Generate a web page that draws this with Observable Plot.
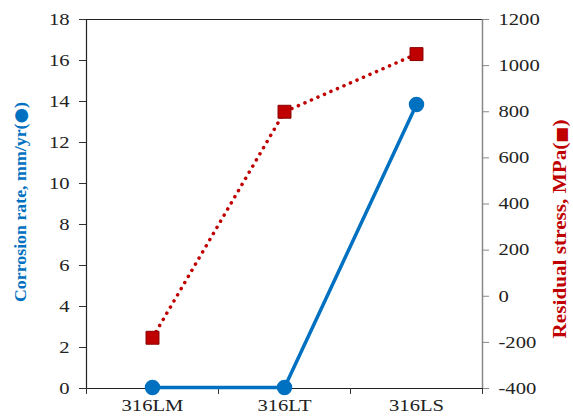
<!DOCTYPE html>
<html>
<head>
<meta charset="utf-8">
<script src="https://cdn.jsdelivr.net/npm/d3@7"></script>
<script src="https://cdn.jsdelivr.net/npm/@observablehq/plot@0.6"></script>
<style>
  html, body { margin: 0; padding: 0; background: #fff; }
  #chart svg { display: block; }
</style>
</head>
<body>
<div id="chart"></div>
<script>
const categories = ["316LM", "316LT", "316LS"];
const corrosionRate = [0.05, 0.05, 13.85];
const residualStress = [-180, 800, 1050];
const leftTicks = [0, 2, 4, 6, 8, 10, 12, 14, 16, 18];
const rightTicks = [-400, -200, 0, 200, 400, 600, 800, 1000, 1200];
const leftTitle = ["Corrosion rate, mm/yr(", "●", ")"];
const rightTitle = ["Residual stress, MPa(", "■", ")"];

const leftMax = 18, rMin = -400, rMax = 1200;
const toLeft = s => (s - rMin) / (rMax - rMin) * leftMax;
const fromLeft = v => String(Math.round(v / leftMax * (rMax - rMin) + rMin));

const corrData = categories.map((c, i) => ({x: i + 0.5, y: corrosionRate[i]}));
const stressData = categories.map((c, i) => ({x: i + 0.5, y: toLeft(residualStress[i])}));

const BLUE = "#0070C0", RED = "#C00000";
const font = "Liberation Serif, Times New Roman, serif";

const chart = Plot.plot({
  width: 573,
  height: 419,
  marginLeft: 86,
  marginRight: 91,
  marginTop: 19,
  marginBottom: 31,
  style: {fontFamily: font, background: "#fff"},
  x: {domain: [0, 3], axis: null},
  y: {domain: [0, leftMax], axis: null},
  marks: [
    Plot.ruleY([leftMax], {stroke: "#222", strokeWidth: 1.2}),
    Plot.ruleY([0], {stroke: "#222", strokeWidth: 1.2}),
    Plot.ruleX([0], {stroke: "#222", strokeWidth: 1.2}),
    Plot.ruleX([3], {stroke: "#888", strokeWidth: 1.5}),
    Plot.axisY({anchor: "left", ticks: leftTicks, tickSize: 7, tickPadding: 10, fontSize: 16.5, stroke: "#333", fill: "#222", label: null, tickFormat: d => String(d)}),
    Plot.axisY({anchor: "right", ticks: rightTicks.map(toLeft), tickSize: 6, tickPadding: 10, fontSize: 16.5, stroke: "#888", fill: "#222", label: null, tickFormat: fromLeft}),
    Plot.axisX({anchor: "bottom", ticks: [0, 1, 2, 3], tickSize: 6, stroke: "#333", tickFormat: () => "", label: null}),
    Plot.axisX({anchor: "bottom", ticks: [0.5, 1.5, 2.5], tickSize: 0, tickPadding: 11, fontSize: 16.5, fill: "#222", label: null, tickFormat: d => categories[Math.round(d - 0.5)]}),
    Plot.lineY(stressData, {x: "x", y: "y", stroke: RED, strokeWidth: 3.5, strokeDasharray: "0.1 7", strokeLinecap: "round"}),
    Plot.dot(stressData, {x: "x", y: "y", symbol: "square", r: 7.3, fill: RED, stroke: "#8a0000", strokeWidth: 1}),
    Plot.lineY(corrData, {x: "x", y: "y", stroke: BLUE, strokeWidth: 3.5}),
    Plot.dot(corrData, {x: "x", y: "y", r: 7, fill: BLUE, stroke: BLUE}),
    Plot.text([leftTitle.join("")], {frameAnchor: "left", dx: -66, dy: -2, rotate: -90, fill: BLUE, fontSize: 17, fontWeight: "bold", textAnchor: "middle", className: "ttl-left"}),
    Plot.text([rightTitle.join("")], {frameAnchor: "right", dx: 78, dy: 25, rotate: -90, fill: RED, fontSize: 18, fontWeight: "bold", textAnchor: "middle", className: "ttl-right"})
  ]
});
document.getElementById("chart").appendChild(chart);

// Render the symbol glyph inside each axis title in a font that has it
function styleSymbol(textEl, parts, size) {
  textEl.textContent = "";
  parts.forEach((p, i) => {
    const ts = document.createElementNS("http://www.w3.org/2000/svg", "tspan");
    ts.textContent = p;
    if (i === 1) {
      ts.setAttribute("font-family", "DejaVu Sans");
      ts.setAttribute("font-size", size);
    }
    textEl.appendChild(ts);
  });
}
chart.querySelectorAll("g.ttl-left text").forEach(t => styleSymbol(t, leftTitle, "1em"));
chart.querySelectorAll("g.ttl-right text").forEach(t => styleSymbol(t, rightTitle, "0.8em"));

// Stretch text along its baseline around its anchor point
function stretch(textEl, k) {
  const b = textEl.getBBox();
  const anchor = getComputedStyle(textEl).textAnchor;
  const ax = anchor === "end" ? b.x + b.width : anchor === "start" ? b.x : b.x + b.width / 2;
  const prev = textEl.getAttribute("transform") || "";
  textEl.setAttribute("transform", `${prev} translate(${ax},0) scale(${k},1) translate(${-ax},0)`);
}
chart.querySelectorAll('g[aria-label$="tick label"] text').forEach(t => stretch(t, 1.25));
chart.querySelectorAll("g.ttl-left text").forEach(t => stretch(t, 1.05));
chart.querySelectorAll("g.ttl-right text").forEach(t => stretch(t, 1.18));
</script>
</body>
</html>
